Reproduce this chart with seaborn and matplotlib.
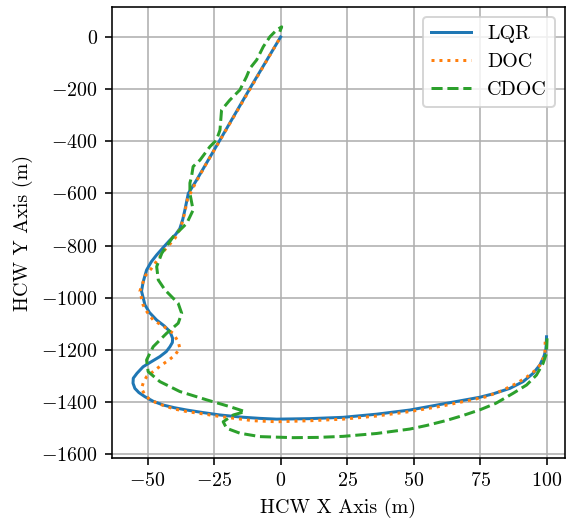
import matplotlib
matplotlib.use("Agg")
import matplotlib.pyplot as plt
import seaborn as sns
import pandas as pd

# ---- data ----
lqr_x = [100.0, 99.9, 99.7, 99.0, 97.5, 95.0, 91.2, 86.2, 79.9, 74.9, 62.5, 48.6, 36.1, 23.5, 11.0, -1.5,
         -7.8, -15.0, -22.8, -29.0, -35.3, -40.0, -44.1, -48.0, -51.0, -53.3, -54.8, -55.5, -55.4, -54.0,
         -51.7, -48.5, -45.4, -43.0, -41.6, -40.7, -40.6, -41.6, -43.8, -46.6, -49.3, -51.0, -52.3, -51.7,
         -50.4, -48.6, -46.6, -44.0, -41.6, -39.5, -37.9, -36.8, -36.0, -34.7, -31.6, -27.2, -22.8, -11.4, 0.0]
lqr_y = [-1150, -1180, -1201, -1226, -1258, -1290, -1322, -1348, -1369, -1382, -1405, -1431, -1447, -1459,
         -1464, -1466, -1463, -1458, -1450, -1441, -1431, -1422, -1412, -1397, -1380, -1364, -1348, -1328,
         -1309, -1290, -1265, -1245, -1226, -1207, -1188, -1172, -1156, -1130, -1108, -1086, -1057, -1028,
         -975, -940, -894, -862, -836, -806, -779, -758, -735, -700, -664, -600, -549, -472, -395, -195, 0]

doc_x = [99.5, 99.4, 98.1, 96.0, 92.5, 88.7, 83.1, 77.4, 71.8, 61.1, 48.6, 36.1, 23.5, 11.0, -1.5, -10.3,
         -16.5, -22.8, -29.0, -35.3, -39.5, -42.9, -46.3, -49.1, -51.2, -52.3, -51.6, -50.4, -47.5, -44.7,
         -42.0, -39.7, -37.9, -38.5, -40.4, -44.0, -47.9, -50.2, -51.7, -52.9, -52.4, -50.8, -48.5, -44.1,
         -39.7, -37.5, -36.2, -35.0, -32.0, -27.5, -23.0, -11.5, -0.3]
doc_y = [-1169, -1213, -1252, -1277, -1305, -1329, -1357, -1380, -1392, -1415, -1437, -1454, -1466, -1472,
         -1476, -1472, -1464, -1456, -1446, -1437, -1428, -1418, -1405, -1392, -1370, -1348, -1325, -1303,
         -1280, -1258, -1239, -1220, -1194, -1169, -1137, -1110, -1086, -1055, -1028, -975, -960, -915,
         -887, -823, -772, -730, -680, -622, -560, -478, -400, -200, -5]

cdoc_x = [100.2, 100.0, 98.7, 96.2, 92.5, 87.4, 81.0, 75.0, 68.6, 62.0, 55.0, 48.6, 36.1, 23.5, 14.0, 4.7,
          -7.8, -15.3, -20.3, -21.6, -17.8, -13.4, -19.1, -27.8, -37.9, -45.4, -49.8, -50.4, -47.9, -42.9,
          -38.5, -37.2, -38.5, -41.0, -43.5, -46.0, -46.6, -44.7, -40.4, -35.3, -32.9, -34.1, -34.1, -33.5,
          -32.9, -30.3, -26.6, -24.1, -22.8, -22.2, -19.1, -15.3, -12.8, -11.5, -9.0, -6.5, -4.0, -1.5,
          0.4, -0.3]
cdoc_y = [-1156, -1213, -1252, -1297, -1335, -1367, -1405, -1430, -1452, -1472, -1490, -1504, -1521, -1532,
          -1536, -1537, -1533, -1520, -1501, -1476, -1450, -1437, -1418, -1392, -1360, -1322, -1284, -1239,
          -1188, -1137, -1098, -1060, -1022, -996, -970, -932, -881, -830, -766, -715, -664, -600, -560,
          -536, -497, -472, -421, -395, -357, -280, -242, -203, -152, -120, -88, -37, 1, 27, 39, 20]

series_names = ["LQR", "DOC", "CDOC"]
x_ticks = [-50, -25, 0, 25, 50, 75, 100]
y_ticks = [0, -200, -400, -600, -800, -1000, -1200, -1400, -1600]
x_label = "HCW X Axis (m)"
y_label = "HCW Y Axis (m)"

# ---- style ----
plt.rcParams["font.family"] = "serif"
plt.rcParams["font.serif"] = ["cmr10", "DejaVu Serif"]
plt.rcParams["mathtext.fontset"] = "cm"
plt.rcParams["axes.formatter.use_mathtext"] = True
plt.rcParams["font.size"] = 10

DPI = 144
fig = plt.figure(figsize=(570 / DPI, 523 / DPI), dpi=DPI)
ax = fig.add_axes([0.1965, 0.1243, 0.7945, 0.8623])

series = [(lqr_x, lqr_y), (doc_x, doc_y), (cdoc_x, cdoc_y)]
colors = ["#1f77b4", "#ff7f0e", "#2ca02c"]
styles = ["-", ":", "--"]
for name, (xs, ys), c, ls in zip(series_names, series, colors, styles):
    df = pd.DataFrame({"x": xs, "y": ys})
    sns.lineplot(data=df, x="x", y="y", sort=False, estimator=None, color=c,
                 linestyle=ls, linewidth=1.5, label=name, ax=ax)

ax.set_xlim(-63.4, 106.9)
ax.set_ylim(-1615, 115)
ax.set_xticks(x_ticks)
ax.set_yticks(y_ticks)
ax.grid(True, color="#b0b0b0", linewidth=0.8)
ax.set_axisbelow(True)
ax.set_xlabel(x_label)
ax.set_ylabel(y_label)
for s in ax.spines.values():
    s.set_color("black")
ax.legend(loc="upper right")

fig.savefig("out.png", dpi=DPI)
